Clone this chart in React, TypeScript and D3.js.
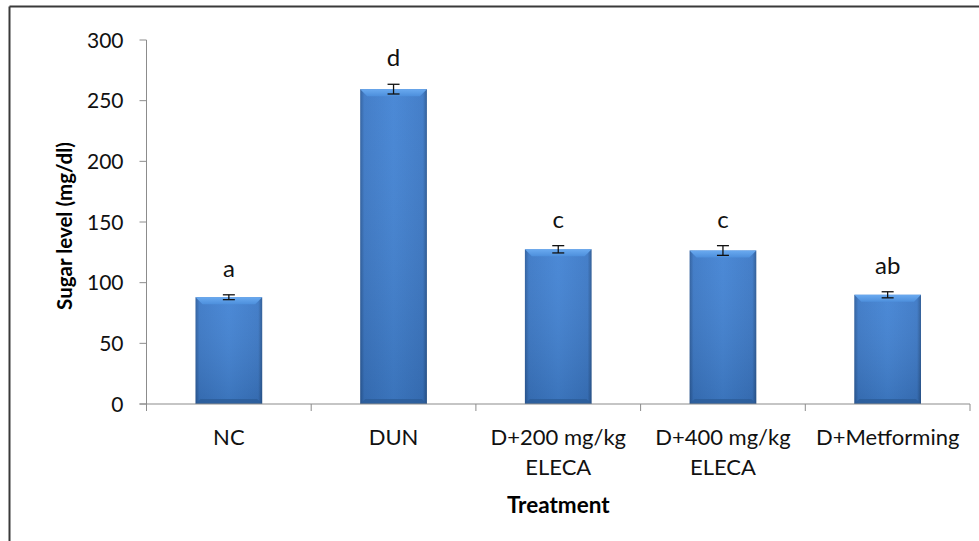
import React from "react"
import { scaleBand, scaleLinear } from "d3"

/** Chart data */
const categories = ["NC", "DUN", "D+200 mg/kg ELECA", "D+400 mg/kg ELECA", "D+Metforming"]
const categoryLines = [["NC"], ["DUN"], ["D+200 mg/kg", "ELECA"], ["D+400 mg/kg", "ELECA"], ["D+Metforming"]]
const sugarMeans = [88, 259.5, 127.5, 126.5, 90]
const sugarErrors = [2, 4, 3, 4, 2.5]
const groupLetters = ["a", "d", "c", "c", "ab"]
const yTicks = [0, 50, 100, 150, 200, 250, 300]

const font = "Lato, 'Open Sans', sans-serif"

export default function App() {
	/** Dimensions */
	const width = 979
	const height = 541
	const plotLeft = 146.5
	const plotRight = 970
	const plotTop = 40
	const plotBottom = 404

	const xScale = scaleBand<string>()
		.domain(categories)
		.range([plotLeft, plotRight])
		.padding(0)

	const yScale = scaleLinear()
		.domain([0, 300])
		.range([plotBottom, plotTop])

	const barWidth = xScale.bandwidth() * 0.405
	const bevel = 7
	const axisColor = "#8c8c8c"

	return (
		<svg width={width} height={height} style={{ position: "absolute", left: 0, top: 0, display: "block" }}>
			<defs>
				<linearGradient id="bar-body" x1="0" x2="1" y1="0" y2="0">
					<stop offset="0%" stopColor="#2b5c9c" />
					<stop offset="6%" stopColor="#3b78c6" />
					<stop offset="50%" stopColor="#4283d4" />
					<stop offset="94%" stopColor="#3b78c6" />
					<stop offset="100%" stopColor="#2a5893" />
				</linearGradient>
				<linearGradient id="bar-shade" x1="0" x2="0" y1="0" y2="1">
					<stop offset="0%" stopColor="#ffffff" stopOpacity={0.05} />
					<stop offset="100%" stopColor="#000000" stopOpacity={0.12} />
				</linearGradient>
				<linearGradient id="bar-top" x1="0" x2="0" y1="0" y2="1">
					<stop offset="0%" stopColor="#6aaaf0" />
					<stop offset="100%" stopColor="#4d8fdc" />
				</linearGradient>
			</defs>

			{/** Outer frame (only top and left visible) */}
			<line x1={9.5} x2={width} y1={6.5} y2={6.5} stroke="#3a3a3a" strokeWidth={2} />
			<line x1={9.5} x2={9.5} y1={6.5} y2={height} stroke="#3a3a3a" strokeWidth={2} />

			{/** y axis */}
			<line x1={plotLeft} x2={plotLeft} y1={plotTop} y2={plotBottom} stroke={axisColor} strokeWidth={1} />
			{yTicks.map(t => (
				<g key={t} transform={`translate(0, ${yScale(t)})`}>
					<line x1={plotLeft - 7} x2={plotLeft} stroke={axisColor} strokeWidth={1} />
					<text x={plotLeft - 23} dy="0.36em" textAnchor="end" fontFamily={font} fontSize={21} fill="#111">
						{t}
					</text>
				</g>
			))}
			<text
				transform={`translate(65, ${(plotTop + plotBottom) / 2 + 4}) rotate(-90)`}
				textAnchor="middle"
				dy="0.36em"
				fontFamily={font}
				fontWeight="bold"
				fontSize={20.5}
				fill="#000"
			>
				Sugar level (mg/dl)
			</text>

			{/** bars */}
			{categories.map((c, i) => {
				const cx = xScale(c)! + xScale.bandwidth() / 2
				const x0 = cx - barWidth / 2
				const x1 = cx + barWidth / 2
				const top = yScale(sugarMeans[i])
				const errTop = yScale(sugarMeans[i] + sugarErrors[i])
				const errBottom = yScale(sugarMeans[i] - sugarErrors[i])
				return (
					<g key={c}>
						<rect x={x0} y={top} width={barWidth} height={plotBottom - top} fill="url(#bar-body)" />
						<rect x={x0} y={top} width={barWidth} height={plotBottom - top} fill="url(#bar-shade)" />
						<polygon
							points={`${x0},${top} ${x1},${top} ${x1 - bevel},${top + bevel} ${x0 + bevel},${top + bevel}`}
							fill="url(#bar-top)"
						/>
						<polygon
							points={`${x0},${plotBottom} ${x1},${plotBottom} ${x1 - 5},${plotBottom - 5} ${x0 + 5},${plotBottom - 5}`}
							fill="#2c5c99"
							opacity={0.8}
						/>
						<line x1={cx} x2={cx} y1={errTop} y2={errBottom} stroke="#111" strokeWidth={1.3} />
						<line x1={cx - 6} x2={cx + 6} y1={errTop} y2={errTop} stroke="#111" strokeWidth={1.3} />
						<line x1={cx - 6} x2={cx + 6} y1={errBottom} y2={errBottom} stroke="#111" strokeWidth={1.3} />
						<text x={cx} y={errTop - 18} textAnchor="middle" fontFamily={font} fontSize={24} fill="#111">
							{groupLetters[i]}
						</text>
					</g>
				)
			})}

			{/** x axis */}
			<line x1={plotLeft - 7} x2={plotRight} y1={plotBottom} y2={plotBottom} stroke={axisColor} strokeWidth={1.2} />
			{[...categories.map(c => xScale(c)!), plotRight].map((x, i) => (
				<line key={i} x1={x} x2={x} y1={plotBottom} y2={plotBottom + 7} stroke={axisColor} strokeWidth={1} />
			))}
			{categories.map((c, i) => (
				<text key={c} textAnchor="middle" fontFamily={font} fontSize={22} fill="#111">
					{categoryLines[i].map((l, j) => (
						<tspan key={j} x={xScale(c)! + xScale.bandwidth() / 2} y={445 + j * 29.5}>
							{l}
						</tspan>
					))}
				</text>
			))}
			<text
				x={(plotLeft + plotRight) / 2}
				y={513}
				textAnchor="middle"
				fontFamily={font}
				fontWeight="bold"
				fontSize={22.5}
				fill="#000"
			>
				Treatment
			</text>
		</svg>
	)
}
